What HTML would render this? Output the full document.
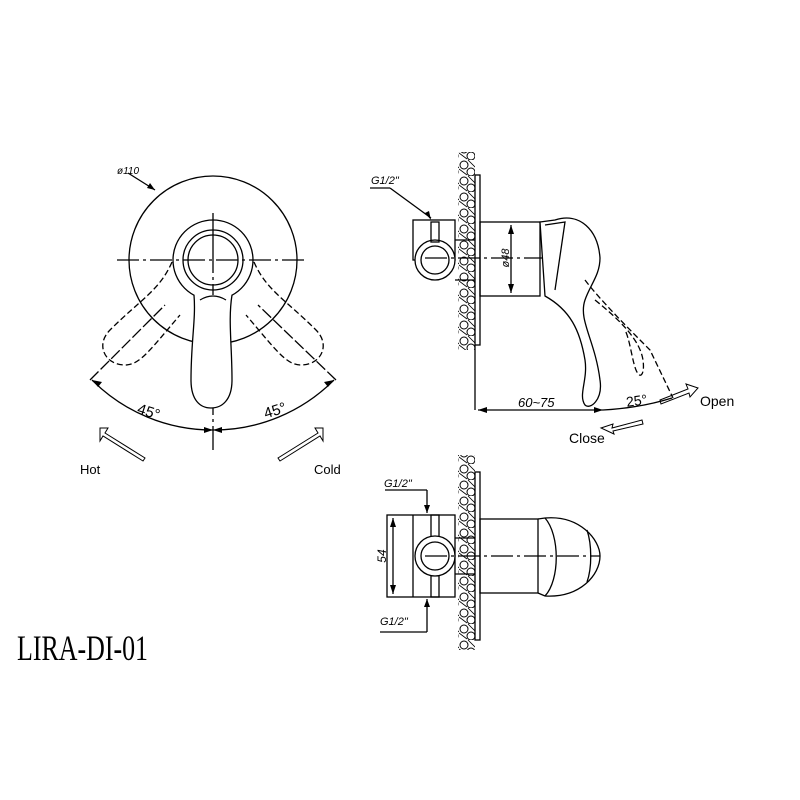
<!DOCTYPE html>
<html><head><meta charset="utf-8"><style>html,body{margin:0;padding:0;background:#fff}svg{display:block}</style></head>
<body>
<svg width="800" height="800" viewBox="0 0 800 800" xmlns="http://www.w3.org/2000/svg" font-family="Liberation Sans, sans-serif">
<defs>
<pattern id="wall" width="17" height="16" patternUnits="userSpaceOnUse">
<circle cx="5" cy="5" r="4" fill="none" stroke="#000" stroke-width="1"/>
<circle cx="12" cy="12" r="4" fill="none" stroke="#000" stroke-width="1"/>
<path d="M0 9 L8 15 M9 0 L17 8" stroke="#000" stroke-width="0.8"/>
</pattern>
</defs>
<g fill="none" stroke="#000" stroke-width="1.3">
<circle cx="213" cy="260" r="84"/>
<line x1="117" y1="260" x2="305" y2="260" stroke-dasharray="22,4,3,4"/>
<line x1="213" y1="213" x2="213" y2="450" stroke-dasharray="60,4,3,4"/>
<circle cx="213" cy="260" r="40"/>
<circle cx="213" cy="260" r="30"/>
<circle cx="213" cy="260" r="25"/>
<path d="M194 295 C196 320 191 340 191 380 C191 400 200 408 211 408 C222 408 232 400 232 380 C232 345 228 320 232 295" fill="#fff"/>
<path d="M172 262 C160 290 140 300 110 330 C95 345 105 365 125 365 C140 365 150 350 180 315" stroke-dasharray="6,3"/>
<path d="M254 262 C266 290 286 300 316 330 C331 345 321 365 301 365 C286 365 276 350 246 315" stroke-dasharray="6,3"/>
<line x1="90" y1="380" x2="165" y2="305" stroke-dasharray="12,3"/>
<line x1="336" y1="380" x2="258" y2="305" stroke-dasharray="12,3"/>
<path d="M92 380 A170 170 0 0 0 213 430 A170 170 0 0 0 334 380"/>
<path d="M200 300 Q213 292 226 300" />
<path d="M100 428 L108 428 L105 433 L145 458 L143 461 L103 436 L100 441 Z" stroke-width="1"/>
<path d="M323 428 L315 428 L318 433 L278 458 L280 461 L320 436 L323 441 Z" stroke-width="1"/>
<line x1="128" y1="173" x2="155" y2="190"/>

<rect x="458" y="152" width="17" height="198" fill="url(#wall)" stroke="none"/>
<rect x="475" y="175" width="5" height="170"/>
<line x1="475" y1="345" x2="475" y2="410"/>
<rect x="480" y="222" width="60" height="74"/>
<rect x="413" y="220" width="42" height="40"/>
<circle cx="435" cy="260" r="20" fill="#fff"/>
<circle cx="435" cy="260" r="14"/>
<line x1="455" y1="240" x2="475" y2="240"/><line x1="455" y1="280" x2="475" y2="280"/>
<rect x="431" y="222" width="8" height="20"/>
<line x1="425" y1="258" x2="600" y2="258" stroke-dasharray="22,4,3,4"/>
<line x1="511" y1="225" x2="511" y2="293"/>
<path d="M540 222 L555 220 C580 212 598 230 600 258 C600 275 590 285 585 300 C578 320 595 340 600 380 C603 400 590 410 585 405 C578 395 588 380 585 360 C580 330 570 310 545 296 Z" fill="#fff"/>
<path d="M545 225 L565 222 L555 290"/>
<path d="M585 280 C600 300 630 330 650 350 L673 398" stroke-dasharray="6,3"/>
<path d="M595 300 C620 320 640 340 643 360 C645 375 640 380 636 370 C632 360 630 340 625 330" stroke-dasharray="6,3"/>
<line x1="478" y1="410" x2="603" y2="410"/>
<path d="M603 410 Q640 408 672 398"/>
<path d="M660 400 L688 389 L686 384 L698 388 L690 397 L689 393 L661 404 Z" stroke-width="1"/>
<path d="M642 420 L612 428 L613 424 L601 428 L614 434 L613 431 L643 424 Z" stroke-width="1"/>
<line x1="370" y1="188" x2="390" y2="188"/><line x1="390" y1="188" x2="431" y2="218"/>

<rect x="458" y="455" width="17" height="195" fill="url(#wall)" stroke="none"/>
<rect x="475" y="472" width="5" height="168"/>
<rect x="480" y="519" width="58" height="74"/>
<path d="M538 519 L545 518 C580 515 600 540 600 556 C600 575 580 598 545 596 L538 593"/>
<path d="M545 518 C560 535 560 580 545 596"/>
<path d="M587 530 C592 545 592 568 587 582"/>
<rect x="387" y="515" width="68" height="82"/>
<line x1="413" y1="515" x2="413" y2="597"/>
<rect x="431" y="515" width="8" height="82"/>
<circle cx="435" cy="556" r="20" fill="#fff"/>
<circle cx="435" cy="556" r="14"/>
<path d="M455 538 L475 538 M455 574 L475 574"/>
<line x1="425" y1="556" x2="600" y2="556" stroke-dasharray="22,4,3,4"/>
<line x1="393" y1="518" x2="393" y2="594"/>
<line x1="385" y1="490" x2="427" y2="490"/><line x1="427" y1="490" x2="427" y2="513"/>
<line x1="380" y1="632" x2="427" y2="632"/><line x1="427" y1="632" x2="427" y2="599"/>
</g>
<g fill="#000" font-size="13">
<text x="117" y="174" font-size="10" font-style="italic">ø110</text>
<text x="138" y="417" font-size="15" transform="rotate(18 150 410)">45°</text>
<text x="263" y="415" font-size="15" transform="rotate(-18 276 408)">45°</text>
<text x="80" y="474">Hot</text>
<text x="314" y="474">Cold</text>
<text x="371" y="184" font-size="11" font-style="italic">G1/2"</text>
<text x="505" y="258" font-size="11" font-style="italic" transform="rotate(-90 505 258)" text-anchor="middle" dy="4">ø48</text>
<text x="518" y="407" font-size="13" font-style="italic">60~75</text>
<text x="626" y="405" font-size="14" transform="rotate(-8 640 400)">25°</text>
<text x="700" y="406" font-size="14">Open</text>
<text x="569" y="443" font-size="14">Close</text>
<text x="384" y="487" font-size="11" font-style="italic">G1/2"</text>
<text x="380" y="625" font-size="11" font-style="italic">G1/2"</text>
<text x="386" y="556" font-size="12" font-style="italic" transform="rotate(-90 386 556)" text-anchor="middle">54</text>
<text x="17" y="660" font-family="Liberation Serif, serif" font-size="36" textLength="131" lengthAdjust="spacingAndGlyphs">LIRA-DI-01</text>
</g>
<g fill="#000">
<path d="M92 380 l10 2 l-4 5 z"/><path d="M334 380 l-10 2 l4 5 z"/>
<path d="M213 430 l-9 -3 l0 6 z"/><path d="M213 430 l9 -3 l0 6 z"/>
<path d="M478 410 l9 -3 v6 z"/><path d="M603 410 l-9 -3 v6 z"/>
<path d="M511 225 l-3 9 h6 z"/><path d="M511 293 l-3 -9 h6 z"/>
<path d="M431 220 l-6 -7 l4 -2 z"/>
<path d="M393 518 l-3 9 h6 z"/><path d="M393 594 l-3 -9 h6 z"/>
<path d="M427 513 l-3 -8 h6 z"/><path d="M427 599 l-3 8 h6 z"/>
<path d="M155 190 l-8 -2 l3 -5 z"/>
</g>
</svg>
</body></html>
